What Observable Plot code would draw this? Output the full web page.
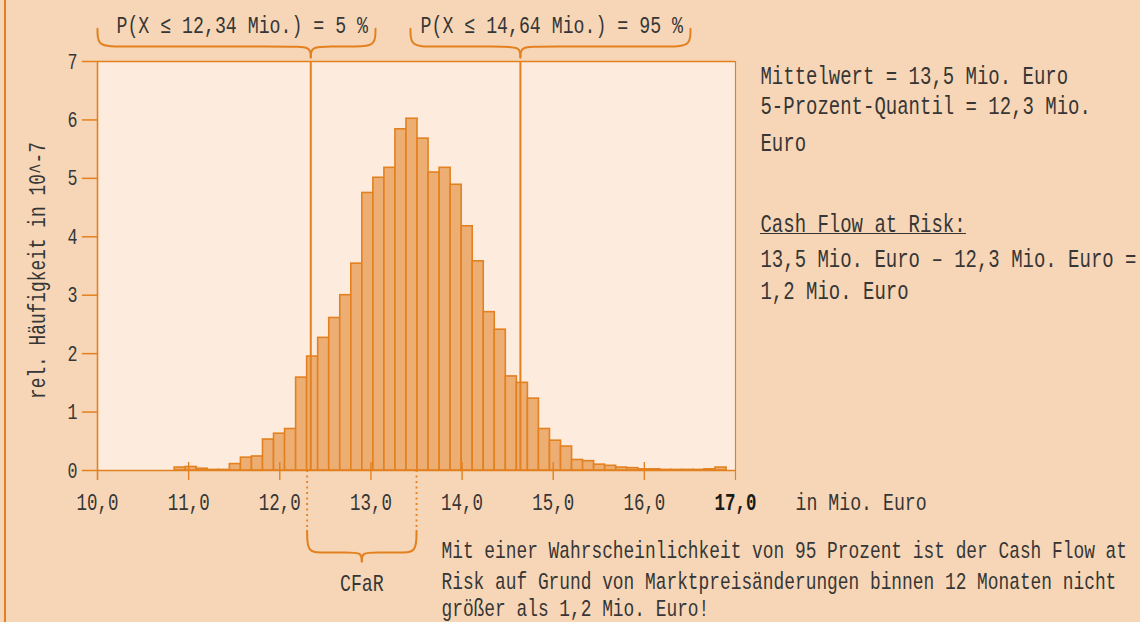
<!DOCTYPE html>
<html><head><meta charset="utf-8">
<script src="https://cdn.jsdelivr.net/npm/d3@7"></script>
<script src="https://cdn.jsdelivr.net/npm/@observablehq/plot@0.6"></script>
<style>
body{margin:0;background:#F6D6B7;}
#wrap{position:relative;width:1140px;height:622px;overflow:hidden;}
#edge{position:absolute;left:4px;top:0;width:2px;height:622px;background:#E2801F;}
</style></head><body><div id="wrap"></div>
<script>
// ---- data ----
const binStart = 10.847;
const binWidth = 0.1211;
const freq = [0.05,0.06,0.03,0.01,0.01,0.11,0.22,0.24,0.53,0.63,0.71,
  1.59,1.95,2.27,2.61,3.00,3.54,4.75,5.01,5.18,5.84,6.02,
  5.68,5.10,5.18,4.89,4.18,3.58,2.71,2.41,1.61,1.50,1.23,
  0.71,0.51,0.41,0.18,0.16,0.10,0.08,0.05,0.04,
  0.02,0.02,0.01,0.01,0.01,0.01,0.02,0.05];
const xTicks = [10,11,12,13,14,15,16,17];
const yTicks = [0,1,2,3,4,5,6,7];
const quantiles = [12.34, 14.64];
const cfarBounds = [12.3, 13.5];
const probTexts = ["P(X ≤ 12,34 Mio.) = 5 %", "P(X ≤ 14,64 Mio.) = 95 %"];
const notes = ["Mittelwert = 13,5 Mio. Euro", "5-Prozent-Quantil = 12,3 Mio.", "Euro",
  "Cash Flow at Risk:", "13,5 Mio. Euro – 12,3 Mio. Euro =", "1,2 Mio. Euro"];
const caption = ["Mit einer Wahrscheinlichkeit von 95 Prozent ist der Cash Flow at",
  "Risk auf Grund von Marktpreisänderungen binnen 12 Monaten nicht",
  "größer als 1,2 Mio. Euro!"];
const yLabel = "rel. Häufigkeit in 10^-7";
const xUnit = "in Mio. Euro";
const cfarLabel = "CFaR";

// ---- layout (data-space positions of annotations) ----
const orange = "#E3801F", barFill = "#EDAE74", plotBg = "#FDECDD", pageBg = "#F6D6B7", ink = "#363636";
const probX = [10.208, 13.544], probY = 7.616;
const braceSpans = [[10.0, 13.05, 12.34], [13.434, 16.506, 14.64]];
const notesX = 17.274, notesY = [6.76, 6.246, 5.597, 4.227, 3.628, 3.08];
const captionX = 13.774, captionY = [-1.37, -1.9, -2.36];
const xLabelY = -0.548;

const bins = freq.map((f, i) => ({x1: binStart + i * binWidth, x2: binStart + (i + 1) * binWidth, f}));

function brace(xa, xb, xt, yTop, yMid, yTip, r, id) {
  return [
    ...[[xa,yTop],[xa,yMid],[xa+r,yMid],[xt-r,yMid],[xt,yMid],[xt,yTip]].map(([x,y]) => ({x,y,z:id+"L"})),
    ...[[xb,yTop],[xb,yMid],[xb-r,yMid],[xt+r,yMid],[xt,yMid],[xt,yTip]].map(([x,y]) => ({x,y,z:id+"R"}))
  ];
}
const braces = [
  ...brace(braceSpans[0][0], braceSpans[0][1], braceSpans[0][2], 7.56, 7.256, 7.068, 0.22, "a"),
  ...brace(braceSpans[1][0], braceSpans[1][1], braceSpans[1][2], 7.56, 7.256, 7.068, 0.22, "b"),
  ...brace(cfarBounds[0], cfarBounds[1], (cfarBounds[0]+cfarBounds[1])/2, -1.03, -1.403, -1.557, 0.16, "c")
];
const fmt = d => d.toFixed(1).replace(".", ",");

const chart = Plot.plot({
  width: 1140, height: 622,
  marginLeft: 97, marginRight: 405, marginTop: 61, marginBottom: 152,
  x: {domain: [10, 17], axis: null},
  y: {domain: [0, 7], axis: null, label: null},
  style: {background: pageBg, fontFamily: "'Liberation Mono', monospace", fontSize: "22px", color: ink},
  marks: [
    Plot.frame({fill: plotBg}),
    Plot.rectY(bins, {x1: "x1", x2: "x2", y: "f", fill: barFill, stroke: orange, strokeWidth: 1.6}),
    Plot.ruleX(quantiles, {y1: 0, y2: 7, stroke: orange, strokeWidth: 2}),
    Plot.ruleY([7], {x1: 10, x2: 17, stroke: orange, strokeWidth: 1.3}),
    Plot.ruleY([0], {x1: 10, x2: 17, stroke: orange, strokeWidth: 1.6}),
    Plot.ruleX([10], {y1: -0.171, y2: 7, stroke: orange, strokeWidth: 1.6}),
    Plot.ruleX([17], {y1: -0.171, y2: 7, stroke: orange, strokeWidth: 1.2}),
    Plot.ruleX(xTicks.slice(1, -1), {y1: 0.137, y2: -0.171, stroke: orange, strokeWidth: 1.4}),
    Plot.axisY({ticks: yTicks, tickSize: 15, stroke: orange, strokeWidth: 1.5, fill: "none", label: null, tickFormat: d => String(d)}),
    Plot.axisY({ticks: yTicks, tickSize: 0, tickPadding: 20, fill: ink, stroke: "none", label: null, fontSize: 22, tickFormat: d => String(d)}),
    Plot.text(xTicks.slice(0, -1), {x: d => d, y: xLabelY, text: fmt, fill: ink, fontSize: 23}),
    Plot.text(xTicks.slice(-1), {x: d => d, y: xLabelY, text: fmt, fill: "#1a1a1a", fontSize: 23, fontWeight: "bold"}),
    Plot.text([xUnit], {x: 17.658, y: xLabelY, text: d => d, textAnchor: "start", fill: ink, fontSize: 24}),
    Plot.text([yLabel], {x: 9.34, y: 3.423, rotate: -90, text: d => d, fill: ink, fontSize: 23.5}),
    Plot.ruleX(cfarBounds, {y1: 0, y2: -1.03, stroke: orange, strokeWidth: 1.8, strokeDasharray: "2,3.5"}),
    Plot.line(braces, {x: "x", y: "y", z: "z", curve: "basis", stroke: orange, strokeWidth: 2}),
    Plot.text([cfarLabel], {x: (cfarBounds[0]+cfarBounds[1])/2, y: -1.93, text: d => d, fill: ink, fontSize: 24}),
    Plot.text(probTexts, {x: (d, i) => probX[i], y: probY, text: d => d, textAnchor: "start", fill: ink, fontSize: 24}),
    Plot.text(notes, {x: notesX, y: (d, i) => notesY[i], text: d => d, textAnchor: "start", fill: ink, fontSize: 25}),
    Plot.ruleY([4.056], {x1: notesX, x2: 19.534, stroke: ink, strokeWidth: 1.2}),
    Plot.text(caption, {x: captionX, y: (d, i) => captionY[i], text: d => d, textAnchor: "start", fill: ink, fontSize: 23.5})
  ]
});

// condense the monospaced text horizontally (tall narrow letterforms)
chart.querySelectorAll("text").forEach(t => {
  const tr = t.getAttribute("transform");
  if (tr) t.setAttribute("transform", tr + " scale(0.76,1)");
  else {
    const x = t.getAttribute("x") || 0, y = t.getAttribute("y") || 0;
    t.setAttribute("x", 0); t.setAttribute("y", 0);
    t.setAttribute("transform", `translate(${x},${y}) scale(0.76,1)`);
  }
});
const wrap = document.getElementById("wrap");
wrap.appendChild(chart);
const edge = document.createElement("div"); edge.id = "edge"; wrap.appendChild(edge);
</script></body></html>
